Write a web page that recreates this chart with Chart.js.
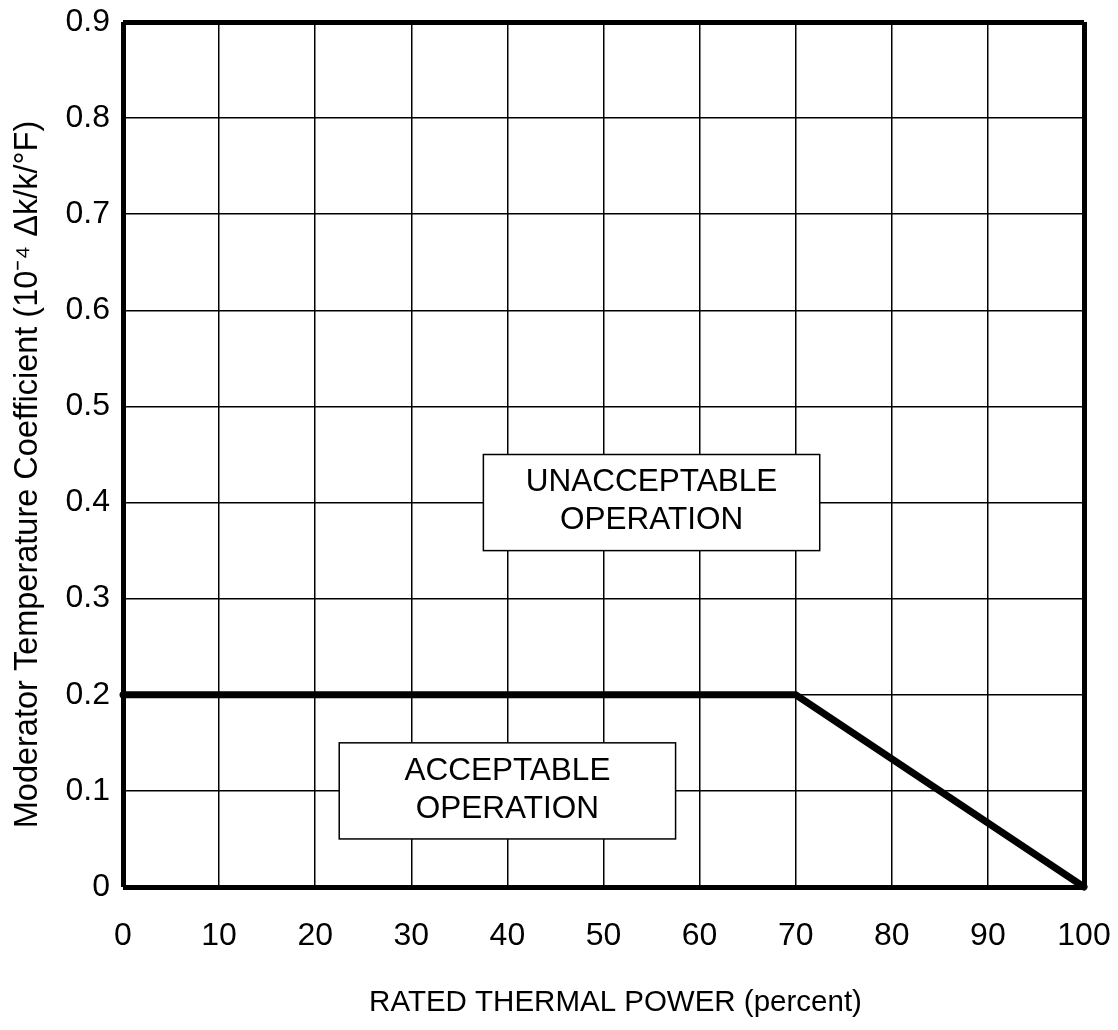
<!DOCTYPE html>
<html><head><meta charset="utf-8">
<script src="https://cdn.jsdelivr.net/npm/chart.js@4/dist/chart.umd.min.js"></script>
<style>html,body{margin:0;padding:0;background:#fff;}#wrap{width:1118px;height:1030px;position:relative;}</style>
</head><body><div id="wrap"><canvas id="c" width="1118" height="1030"></canvas></div>
<script>
// ---- data ----
const powerPercent = [0, 70, 100];
const mtcLimit = [0.2, 0.2, 0];
const xTickValues = [0, 10, 20, 30, 40, 50, 60, 70, 80, 90, 100];
const yTickValues = [0, 0.1, 0.2, 0.3, 0.4, 0.5, 0.6, 0.7, 0.8, 0.9];
const regionLabels = [['UNACCEPTABLE', 'OPERATION'], ['ACCEPTABLE', 'OPERATION']];
const regionXRange = [[37.5, 72.5], [22.5, 57.5]];
const regionYRange = [[0.35, 0.45], [0.05, 0.15]];
const xTitle = 'RATED THERMAL POWER (percent)';
const yTitle = 'Moderator Temperature Coefficient (10\u207B\u2074 \u0394k/k/\u00B0F)';

const FONT = "'Liberation Sans', Arial, sans-serif";
const FS = 32;

const boxPlugin = {
  id: 'regionBoxes',
  afterDatasetsDraw(chart) {
    const {ctx, scales: {x, y}} = chart;
    ctx.save();
    regionLabels.forEach((lines, i) => {
      const x0 = x.getPixelForValue(regionXRange[i][0]);
      const x1 = x.getPixelForValue(regionXRange[i][1]);
      const y0 = y.getPixelForValue(regionYRange[i][1]);
      const y1 = y.getPixelForValue(regionYRange[i][0]);
      ctx.fillStyle = '#fff';
      ctx.fillRect(x0, y0, x1 - x0, y1 - y0);
      ctx.strokeStyle = '#000';
      ctx.lineWidth = 1.5;
      ctx.strokeRect(x0, y0, x1 - x0, y1 - y0);
      ctx.fillStyle = '#000';
      ctx.font = '31.5px ' + FONT;
      ctx.textAlign = 'center';
      ctx.textBaseline = 'middle';
      const cx = (x0 + x1) / 2, cy = (y0 + y1) / 2 - 1;
      const lh = 38;
      lines.forEach((t, k) => {
        ctx.fillText(t, cx, cy + (k - (lines.length - 1) / 2) * lh);
      });
    });
    const ca = chart.chartArea;
    ctx.fillStyle = '#000';
    ctx.textAlign = 'center';
    ctx.textBaseline = 'middle';
    // horizontal axis title
    ctx.font = '29.5px ' + FONT;
    ctx.fillText(xTitle, (ca.left + ca.right) / 2 + 12, 1003);
    // vertical axis title
    ctx.save();
    ctx.translate(28, (ca.top + ca.bottom) / 2 + 20);
    ctx.rotate(-Math.PI / 2);
    ctx.font = '32.5px ' + FONT;
    ctx.fillText(yTitle, 0, 0);
    ctx.restore();
    ctx.restore();
  }
};

const edgeWidth = (ctx, n) => (ctx.index === 0 || ctx.index === n - 1) ? 5 : 1.5;
const noPad = s => { s.paddingTop = 0; s.paddingBottom = 0; s.paddingLeft = 0; s.paddingRight = 0; };

new Chart(document.getElementById('c'), {
  type: 'scatter',
  data: {
    datasets: [{
      data: powerPercent.map((p, i) => ({x: p, y: mtcLimit[i]})),
      showLine: true,
      borderColor: '#000',
      borderWidth: 7,
      pointRadius: 0,
      borderCapStyle: 'round',
      borderJoinStyle: 'miter',
      clip: false
    }]
  },
  options: {
    responsive: false,
    animation: false,
    devicePixelRatio: 1,
    layout: {padding: {left: 0, top: 22, right: 34, bottom: 0}},
    plugins: {legend: {display: false}, tooltip: {enabled: false}},
    scales: {
      x: {
        type: 'linear', min: 0, max: 100,
        afterBuildTicks: s => { s.ticks = xTickValues.map(v => ({value: v})); },
        afterFit: s => { s.height = 143; noPad(s); },
        ticks: {color: '#000', font: {family: FONT, size: FS}, padding: 30, maxRotation: 0, autoSkip: false},
        grid: {color: '#000', lineWidth: c => edgeWidth(c, xTickValues.length), drawTicks: false},
        border: {display: false},
        title: {display: false}
      },
      y: {
        type: 'linear', min: 0, max: 0.9,
        afterBuildTicks: s => { s.ticks = yTickValues.map(v => ({value: v})); },
        afterFit: s => { s.width = 123; noPad(s); },
        ticks: {color: '#000', font: {family: FONT, size: FS}, padding: 13, autoSkip: false,
          callback: v => (v === 0 ? '0' : v.toFixed(1))},
        grid: {color: '#000', lineWidth: c => edgeWidth(c, yTickValues.length), drawTicks: false},
        border: {display: false},
        title: {display: false}
      }
    }
  },
  plugins: [boxPlugin]
});
</script></body></html>
